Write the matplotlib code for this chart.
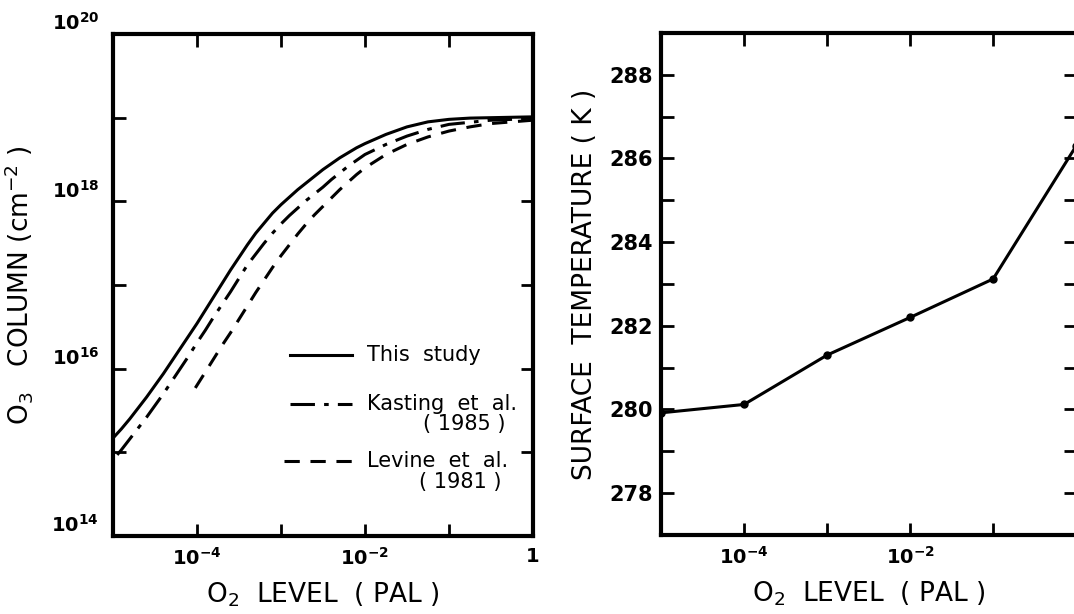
import matplotlib.pyplot as plt
from matplotlib.lines import Line2D
import numpy as np

plt.rcParams['font.family'] = ['DejaVu Sans']
plt.rcParams['mathtext.default'] = 'regular'

# left panel: O3 column vs O2 level (log10 values)
this_logx = [-5.0, -4.9, -4.8, -4.7, -4.6, -4.5, -4.4, -4.3, -4.2, -4.1, -4.0,
             -3.9, -3.8, -3.7, -3.6, -3.5, -3.4, -3.3, -3.2, -3.1, -3.0,
             -2.9, -2.8, -2.7, -2.6, -2.5, -2.4, -2.3, -2.2, -2.1, -2.0,
             -1.75, -1.5, -1.25, -1.0, -0.75, -0.5, 0.0]
this_logy = [15.17, 15.28, 15.40, 15.53, 15.66, 15.80, 15.94, 16.09, 16.24, 16.39, 16.54,
             16.70, 16.86, 17.02, 17.18, 17.33, 17.48, 17.62, 17.74, 17.86, 17.96,
             18.05, 18.14, 18.22, 18.30, 18.38, 18.45, 18.52, 18.58, 18.64, 18.69,
             18.80, 18.89, 18.95, 18.98, 18.995, 19.00, 19.01]

kast_logx = [-4.95, -4.9, -4.8, -4.7, -4.6, -4.5, -4.4, -4.3, -4.2, -4.1, -4.0,
             -3.9, -3.8, -3.7, -3.6, -3.5, -3.4, -3.3, -3.2, -3.1, -3.0,
             -2.9, -2.8, -2.7, -2.6, -2.5, -2.4, -2.3, -2.2, -2.1, -2.0,
             -1.75, -1.5, -1.25, -1.0, -0.5, 0.0]
kast_logy = [14.97, 15.03, 15.16, 15.29, 15.42, 15.56, 15.70, 15.85, 16.00, 16.15, 16.31,
             16.46, 16.62, 16.77, 16.92, 17.08, 17.24, 17.37, 17.50, 17.62, 17.73,
             17.83, 17.92, 18.01, 18.09, 18.17, 18.26, 18.34, 18.42, 18.49, 18.56,
             18.68, 18.78, 18.86, 18.92, 18.97, 18.99]

lev_logx = [-4.02, -3.9, -3.8, -3.7, -3.6, -3.5, -3.4, -3.3, -3.2, -3.1, -3.0,
            -2.9, -2.8, -2.7, -2.6, -2.5, -2.4, -2.3, -2.2, -2.1, -2.0,
            -1.75, -1.5, -1.25, -1.0, -0.75, -0.5, 0.0]
lev_logy = [15.77, 15.96, 16.12, 16.28, 16.43, 16.59, 16.75, 16.91, 17.06, 17.21, 17.35,
            17.48, 17.61, 17.73, 17.84, 17.94, 18.04, 18.14, 18.23, 18.32, 18.40,
            18.56, 18.68, 18.77, 18.84, 18.89, 18.93, 18.97]

# right panel: surface temperature vs O2 level
o2_levels = [1e-5, 1e-4, 1e-3, 1e-2, 1e-1, 1.0]
surf_temp = [279.92, 280.12, 281.3, 282.2, 283.12, 286.3]

left_xticks = [1e-5, 1e-4, 1e-3, 1e-2, 1e-1, 1]
left_xlabels = ['', '$10^{-4}$', '', '$10^{-2}$', '', '1']
left_yticks = [1e14, 1e15, 1e16, 1e17, 1e18, 1e19, 1e20]
left_ylabels = ['$10^{14}$', '', '$10^{16}$', '', '$10^{18}$', '', '$10^{20}$']
right_xlabels = ['', '$10^{-4}$', '', '$10^{-2}$', '', '']
right_yticks = np.arange(277, 290, 1)
right_ylabels = [str(v) if v % 2 == 0 else '' for v in right_yticks]

fig = plt.figure(figsize=(10.74, 6.14), dpi=100)
ax1 = fig.add_axes([0.1052, 0.127, 0.391, 0.8176])
ax2 = fig.add_axes([0.6155, 0.1287, 0.3865, 0.8176])

for ax in (ax1, ax2):
    for s in ax.spines.values():
        s.set_linewidth(3)
    ax.tick_params(which='both', direction='in', top=True, right=True,
                   length=9, width=2)
    ax.tick_params(which='minor', length=0)

# ---- left panel
lw = 2.2
ax1.plot(10 ** np.array(this_logx), 10 ** np.array(this_logy), 'k-', lw=lw,
         solid_joinstyle='round')
ax1.plot(10 ** np.array(kast_logx), 10 ** np.array(kast_logy), 'k', lw=lw,
         dashes=(8, 3, 1.5, 3))
ax1.plot(10 ** np.array(lev_logx), 10 ** np.array(lev_logy), 'k', lw=lw,
         dashes=(5, 3.5))
ax1.set_xscale('log')
ax1.set_yscale('log')
ax1.set_xlim(1e-5, 1)
ax1.set_ylim(1e14, 1e20)
ax1.set_xticks(left_xticks)
ax1.set_xticklabels(left_xlabels, fontsize=14, fontweight='bold')
ax1.set_yticks(left_yticks)
ax1.set_yticklabels(left_ylabels, fontsize=14, fontweight='bold')
for t in ax1.get_yticklabels():
    t.set_verticalalignment('bottom')
ax1.tick_params(axis='x', pad=8)
ax1.tick_params(axis='y', pad=10)
ax1.set_xlabel('O$_2$  LEVEL  ( PAL )', fontsize=19, labelpad=8)
ax1.set_ylabel('O$_3$   COLUMN (cm$^{-2}$ )', fontsize=19, labelpad=12)

# legend drawn by hand
leg = [(None, 0.361, 0.421, 'This  study'),
       ((8, 3, 1.5, 3), 0.263, 0.421, 'Kasting  et  al.'),
       ((5, 3.5), 0.149, 0.407, 'Levine  et  al.')]
for d, yy, x0, lab in leg:
    ln = Line2D([x0, 0.569], [yy, yy], color='k', lw=lw, transform=ax1.transAxes)
    if d is not None:
        ln.set_dashes(d)
    ax1.add_line(ln)
    ax1.text(0.605, yy, lab, transform=ax1.transAxes, fontsize=15,
             va='center', ha='left')
ax1.text(0.935, 0.223, '( 1985 )', transform=ax1.transAxes, fontsize=15,
         va='center', ha='right')
ax1.text(0.925, 0.108, '( 1981 )', transform=ax1.transAxes, fontsize=15,
         va='center', ha='right')

# ---- right panel
ax2.plot(o2_levels, surf_temp, 'k-', lw=2.2, marker='o', ms=5)
ax2.set_xscale('log')
ax2.set_xlim(1e-5, 1)
ax2.set_ylim(277, 289)
ax2.set_xticks(left_xticks)
ax2.set_xticklabels(right_xlabels, fontsize=14, fontweight='bold')
ax2.set_yticks(right_yticks)
ax2.set_yticklabels(right_ylabels, fontsize=15, fontweight='bold')
ax2.tick_params(axis='x', pad=8)
ax2.tick_params(axis='y', pad=6)
ax2.set_xlabel('O$_2$  LEVEL  ( PAL )', fontsize=19, labelpad=8)
ax2.set_ylabel('SURFACE  TEMPERATURE ( K )', fontsize=19, labelpad=8)

fig.savefig('out.png', dpi=100)
